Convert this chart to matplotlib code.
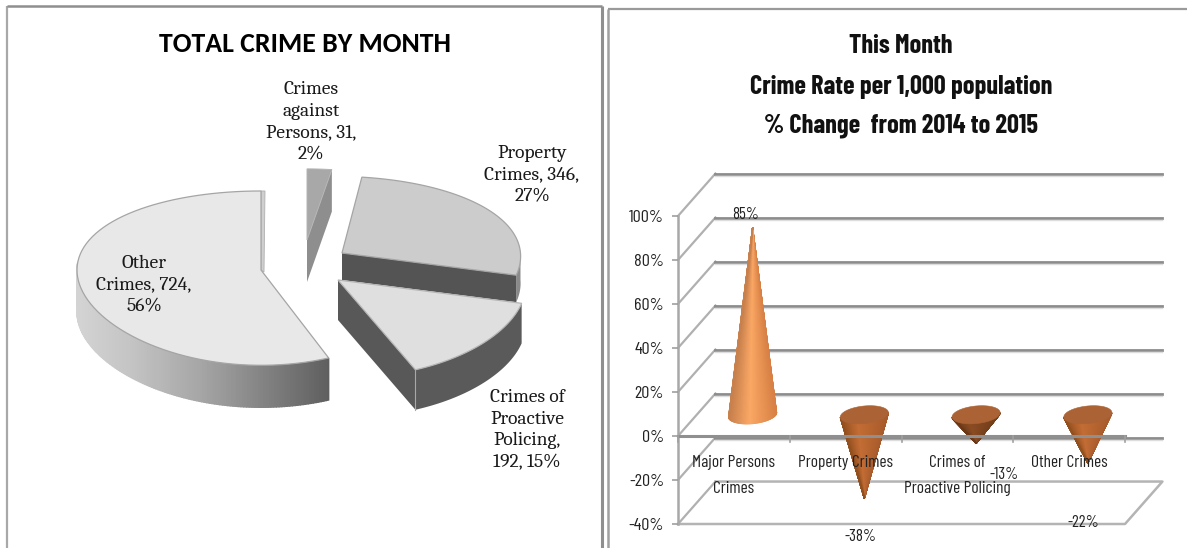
import numpy as np
import matplotlib
matplotlib.use("Agg")
import matplotlib.pyplot as plt
from matplotlib.patches import Polygon

# ---------- data ----------
pie_labels = ["Crimes\nagainst\nPersons, 31,\n2%", "Property\nCrimes, 346,\n27%",
              "Crimes of\nProactive\nPolicing,\n192, 15%", "Other\nCrimes, 724,\n56%"]
pie_values = [31, 346, 192, 724]
cone_categories = ["Major Persons\nCrimes", "Property Crimes", "Crimes of\nProactive Policing", "Other Crimes"]
cone_values = [85, -38, -13, -22]
y_ticks = [-40, -20, 0, 20, 40, 60, 80, 100]

W, H = 1187, 548
NARROW = ["Barlow Condensed", "Liberation Sans", "DejaVu Sans"]
CALIBRI = ["Carlito", "Barlow Condensed", "Liberation Sans", "DejaVu Sans"]
SERIF = ["Caladea", "Liberation Serif", "DejaVu Serif"]

fig = plt.figure(figsize=(W / 100, H / 100), dpi=100, facecolor="white")

ov = fig.add_axes([0, 0, 1, 1])
ov.set_xlim(0, W)
ov.set_ylim(H, 0)
ov.axis("off")

for xs, ys, c, lw in [([7, 7], [6, H], "#a8a8a8", 1.6), ([7, 602], [6, 6], "#8f8f8f", 1.8),
                      ([602, 602], [6, H], "#8f8f8f", 2.2), ([608, 608], [9, H], "#a0a0a0", 1.8),
                      ([608, W], [9, 9], "#9a9a9a", 1.6)]:
    ov.plot(xs, ys, color=c, lw=lw, solid_capstyle="butt")

ov.text(305, 44, "TOTAL CRIME BY MONTH", ha="center", va="center", fontsize=20,
        fontweight="bold", family=CALIBRI, color="black")
for txt, yy in [("This Month", 46), ("Crime Rate per 1,000 population", 87), ("% Change  from 2014 to 2015", 126)]:
    ov.text(901, yy, txt, ha="center", va="center", fontsize=19, fontweight="bold",
            family=NARROW, color="#111111")

# ---------- 3-D pie ----------
A, B, K = 184.0, 86.4, 0.0934
total = sum(pie_values)
edges = np.concatenate([[0], np.cumsum(pie_values)]) / total * 2 * np.pi


def rim(theta, scale=1.0, shear=0.0):
    s, t = np.sin(theta), -np.cos(theta)
    return A * s * scale + shear * t, B * t * scale / (1 - K * t)


def sector(i, apex, scale=1.0, shear=0.0, n=80):
    th = np.linspace(edges[i], edges[i + 1], n)
    x, y = rim(th, scale, shear)
    return np.column_stack([np.r_[apex[0], apex[0] + x], np.r_[apex[1], apex[1] + y]])


def rimface(apex, depth, t0, t1, scale=1.0, shear=0.0, n=60):
    th = np.linspace(t0, t1, n)
    x, y = rim(th, scale, shear)
    px, py = apex[0] + x, apex[1] + y
    return np.column_stack([np.r_[px, px[::-1]], np.r_[py, py[::-1] + depth]])


def cutface(apex, theta, depth, scale=1.0, shear=0.0):
    x, y = rim(theta, scale, shear)
    return [(apex[0], apex[1]), (apex[0] + x, apex[1] + y),
            (apex[0] + x, apex[1] + y + depth), (apex[0], apex[1] + depth)]


EDGE = "#a5a5a5"
# persons
ap = (307, 240)
ov.add_patch(Polygon(cutface(ap, edges[1], 42, 0.9), fc="#8e8e8e", ec="none"))
ov.add_patch(Polygon(sector(0, ap, 0.9), fc="#a8a8a8", ec="#b4b4b4", lw=0.7))
# property
ap = (342, 253)
PR, PRS = 0.97, 7.0
ov.add_patch(Polygon(rimface(ap, 27, np.pi / 2, edges[2], PR, PRS), fc="#8a8a8a", ec="none"))
ov.add_patch(Polygon(cutface(ap, edges[2], 27, PR, PRS), fc="#545454", ec="none"))
ov.add_patch(Polygon(sector(1, ap, PR, PRS), fc="#cccccc", ec=EDGE, lw=0.9))
# proactive
ap = (338, 280)
PS, PSS = 1.02, 9.0
ov.add_patch(Polygon(cutface(ap, edges[3], 40, PS, PSS), fc="#585858", ec="none"))
ov.add_patch(Polygon(rimface(ap, 40, edges[2], edges[3], PS, PSS), fc="#5a5a5a", ec="none"))
ov.add_patch(Polygon(sector(2, ap, PS, PSS), fc="#dfdfdf", ec="#b5b5b5", lw=0.9))
xb, yb = rim(edges[3], PS, PSS)
ov.plot([ap[0] + xb, ap[0] + xb], [ap[1] + yb, ap[1] + yb + 40], color="#a8a8a8", lw=0.8)
# other
ap = (261, 270)
ths = np.linspace(edges[3], 1.53 * np.pi, 140)
xr, yr = rim(ths)
grey_x = [77, 130, 200, 260, 329]
grey_v = [0.83, 0.77, 0.65, 0.52, 0.37]
for j in range(len(ths) - 1):
    pts = [(ap[0] + xr[j], ap[1] + yr[j]), (ap[0] + xr[j + 1], ap[1] + yr[j + 1]),
           (ap[0] + xr[j + 1], ap[1] + yr[j + 1] + 42), (ap[0] + xr[j], ap[1] + yr[j] + 42)]
    g = np.interp(ap[0] + (xr[j] + xr[j + 1]) / 2, grey_x, grey_v)
    ov.add_patch(Polygon(pts, fc=(g, g, g), ec=(g, g, g), lw=1.0))
x_end, y_end = rim(edges[4])
ov.add_patch(Polygon([(ap[0], ap[1]), (ap[0] + x_end, ap[1] + y_end),
                      (ap[0] + x_end + 4, ap[1] + y_end), (ap[0] + 3, ap[1] + 2)], fc="#cfcfcf", ec="#b0b0b0", lw=0.6))
ov.add_patch(Polygon(sector(3, ap), fc="#e8e8e8", ec=EDGE, lw=0.9))

pie_label_xy = [(311, 122), (532, 175), (527, 430), (144, 285)]
for lab, (lx, ly) in zip(pie_labels, pie_label_xy):
    ov.text(lx, ly, lab, ha="center", va="center", fontsize=14, family=SERIF,
            color="#1a1a1a", linespacing=1.32)

# ---------- 3-D cone chart on real axes ----------
left, right, top, bottom = 678, 1125, 216, 524
ax = fig.add_axes([left / W, 1 - bottom / H, (right - left) / W, (bottom - top) / H])
ax.patch.set_alpha(0)
ax.set_xlim(-0.5, 3.5)
ax.set_ylim(-40, 100)
for sp in ax.spines.values():
    sp.set_visible(False)
ax.set_xticks([])
ax.set_yticks(y_ticks)
ax.set_yticklabels([f"{v}%" for v in y_ticks], family=NARROW, fontsize=13, color="#222222")
ax.tick_params(axis="y", length=4, width=1.2, color="#a0a0a0", pad=6)

DX, DY = 0.335, 19.3
XL, XR = -0.5, 3.5
for v in y_ticks:
    ax.plot([XL, XL + DX], [v, v + DY], color="#b0b0b0", lw=1.6, clip_on=False, zorder=1)
    if v > -40:
        ax.plot([XL + DX, XR + DX], [v + DY, v + DY], color="#8c8c8c", lw=2.0, clip_on=False, zorder=1)
        ax.plot([XL + DX, XR + DX], [v + DY - 0.9, v + DY - 0.9], color="#dddddd", lw=1.0, clip_on=False, zorder=1)
ax.plot([XL + DX, XR + DX, XR, XL], [-40 + DY, -40 + DY, -40, -40], color="#b4b4b4", lw=1.8,
        clip_on=False, zorder=1)
ax.plot([XL, XL], [-40, 100], color="#a8a8a8", lw=1.8, clip_on=False, zorder=1)


def mix(c1, c2, f):
    return tuple(np.array(matplotlib.colors.to_rgb(c1)) * (1 - f) + np.array(matplotlib.colors.to_rgb(c2)) * f)


HW, HH, TILT = 0.215, 4.0, 1.0
for i, val in enumerate(cone_values):
    cx, cy = i + DX / 2, DY / 2
    phi = np.linspace(0, np.pi, 120)
    ex = cx + HW * np.cos(phi)
    ey = cy - HH * np.sin(phi) + TILT * np.cos(phi)
    tip = (cx, val + cy)
    if val > 0:
        side_l, side_c, side_r = "#d77f44", "#fba865", "#c8804c"
        peak = -0.15
    elif val > -20:
        side_l, side_c, side_r = "#6f3c1a", "#8b4c22", "#6a3817"
        peak = -0.3
    else:
        side_l, side_c, side_r = "#a65a2a", "#c46d35", "#93501f"
        peak = -0.3
    for j in range(len(phi) - 1):
        u = np.cos((phi[j] + phi[j + 1]) / 2)
        if u > peak:
            c = mix(side_c, side_l, (u - peak) / (1 - peak))
        else:
            c = mix(side_c, side_r, (peak - u) / (1 + peak))
        tri = [(ex[j], ey[j]), (ex[j + 1], ey[j + 1]), tip]
        ax.add_patch(Polygon(tri, fc=c, ec=c, lw=0.8, clip_on=False, zorder=3))
    if val < 0:
        a = np.linspace(0, 2 * np.pi, 80)
        cap = np.column_stack([cx + HW * np.cos(a), cy + HH * np.sin(a) + TILT * np.cos(a)])
        ax.add_patch(Polygon(cap, fc="#ab6234", ec="#ab6234", lw=0.4, clip_on=False, zorder=4))

ax.axhline(0, color="#8f8f8f", lw=2.2, zorder=5, clip_on=False)
for k in range(5):
    ax.plot([k - 0.5, k - 0.5], [0, -2.8], color="#a0a0a0", lw=1.2, clip_on=False, zorder=5)

for i, lab in enumerate(cone_categories):
    for n, p in enumerate(lab.split("\n")):
        ax.text(i, -12 - n * 11.8, p, ha="center", va="center", family=NARROW, fontsize=12.5,
                color="#222222", zorder=6)

label_offsets = [(0.1, 15.5), (0.134, -7.5), (0.42, -4.3), (0.125, -17.5)]
for i, (val, (ox, oy)) in enumerate(zip(cone_values, label_offsets)):
    ax.text(i + ox, val + oy, f"{val}%", ha="center", va="center", family=NARROW,
            fontsize=12, color="#222222", zorder=6, clip_on=False)

fig.savefig("out.png", dpi=100)
